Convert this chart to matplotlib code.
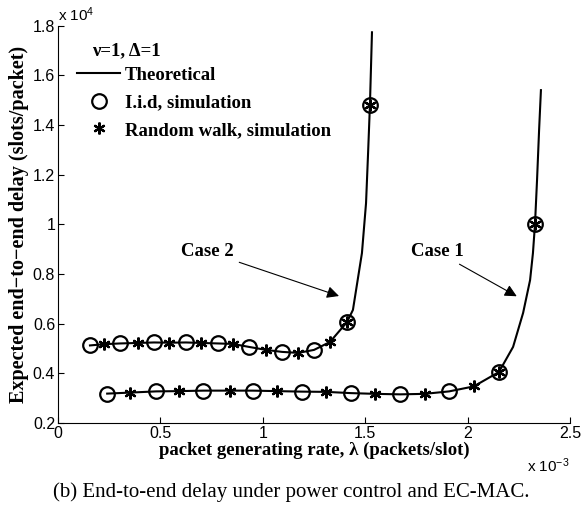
import matplotlib
matplotlib.use("Agg")
import matplotlib.pyplot as plt
from matplotlib.lines import Line2D

# Case 1 (lower curve), lambda in units of 1e-3, delay in units of 1e4
lam1_iid = [0.24, 0.48, 0.71, 0.95, 1.19, 1.43, 1.67, 1.91, 2.153, 2.329]
delay1_iid = [0.318, 0.327, 0.330, 0.330, 0.326, 0.320, 0.315, 0.327, 0.405, 1.0]
lam1_rw = [0.35, 0.59, 0.84, 1.07, 1.31, 1.55, 1.79, 2.03, 2.153, 2.329]
delay1_rw = [0.322, 0.328, 0.330, 0.328, 0.325, 0.317, 0.317, 0.347, 0.405, 1.0]
lam1_th = [0.24, 0.35, 0.48, 0.59, 0.71, 0.84, 0.95, 1.07, 1.19, 1.31, 1.43,
           1.55, 1.67, 1.79, 1.91, 2.03, 2.153, 2.222, 2.271, 2.305, 2.319,
           2.329, 2.339, 2.349, 2.358]
delay1_th = [0.318, 0.322, 0.327, 0.328, 0.330, 0.330, 0.330, 0.328, 0.326,
             0.325, 0.320, 0.317, 0.315, 0.317, 0.327, 0.347, 0.405, 0.506,
             0.643, 0.775, 0.884, 1.0, 1.178, 1.379, 1.54]

# Case 2 (upper curve)
lam2_iid = [0.156, 0.303, 0.469, 0.625, 0.781, 0.933, 1.094, 1.25, 1.411, 1.523]
delay2_iid = [0.512, 0.520, 0.524, 0.524, 0.520, 0.506, 0.486, 0.494, 0.606, 1.48]
lam2_rw = [0.225, 0.39, 0.542, 0.698, 0.854, 1.016, 1.172, 1.328, 1.411, 1.523]
delay2_rw = [0.517, 0.522, 0.523, 0.522, 0.518, 0.494, 0.482, 0.526, 0.606, 1.48]
lam2_th = [0.156, 0.225, 0.303, 0.39, 0.469, 0.542, 0.625, 0.698, 0.781,
           0.854, 0.933, 1.016, 1.094, 1.172, 1.25, 1.328, 1.411, 1.44,
           1.484, 1.504, 1.514, 1.523, 1.533]
delay2_th = [0.512, 0.517, 0.520, 0.522, 0.524, 0.523, 0.524, 0.522, 0.520,
             0.518, 0.506, 0.494, 0.486, 0.482, 0.494, 0.526, 0.606, 0.655,
             0.884, 1.085, 1.287, 1.48, 1.773]

xticks = [0, 0.5, 1, 1.5, 2, 2.5]
xticklabels = ['0', '0.5', '1', '1.5', '2', '2.5']
yticks = [0.2, 0.4, 0.6, 0.8, 1.0, 1.2, 1.4, 1.6, 1.8]
yticklabels = ['0.2', '0.4', '0.6', '0.8', '1', '1.2', '1.4', '1.6', '1.8']

SERIF = 'Liberation Serif'
SANS = 'Liberation Sans'
plt.rcParams['mathtext.fontset'] = 'custom'
plt.rcParams['mathtext.rm'] = SANS
plt.rcParams['mathtext.it'] = SANS

fig = plt.figure(figsize=(5.82, 5.12), dpi=100)
ax = fig.add_axes([0.0997, 0.174, 0.8797, 0.776])

lw = 1.5
star = (6, 2, 0)
circ_kw = dict(marker='o', markersize=10.5, markerfacecolor='none',
               markeredgecolor='k', markeredgewidth=1.6, linestyle='none')
star_kw = dict(marker=star, markersize=8.5, markeredgecolor='k',
               markeredgewidth=1.6, linestyle='none')

for lam, d in [(lam1_th, delay1_th), (lam2_th, delay2_th)]:
    ax.plot(lam, d, color='k', lw=lw)
for lam, d in [(lam1_iid, delay1_iid), (lam2_iid, delay2_iid)]:
    ax.plot(lam, d, **circ_kw)
for lam, d in [(lam1_rw, delay1_rw), (lam2_rw, delay2_rw)]:
    ax.plot(lam, d, **star_kw)

ax.set_xlim(0, 2.5)
ax.set_ylim(0.2, 1.8)
ax.set_xticks(xticks)
ax.set_xticklabels(xticklabels, fontfamily=SANS, fontsize=11.5)
ax.set_yticks(yticks)
ax.set_yticklabels(yticklabels, fontfamily=SANS, fontsize=11.5)
ax.tick_params(direction='in', length=4, width=0.8, pad=2, top=False, right=False)
for s in ['top', 'right']:
    ax.spines[s].set_visible(False)

ax.set_xlabel('packet generating rate, λ (packets/slot)', fontfamily=SERIF,
              fontweight='bold', fontsize=13.5, labelpad=1)
ax.set_ylabel('Expected end\u2212to\u2212end delay (slots/packet)', fontfamily=SERIF,
              fontweight='bold', fontsize=14.5, labelpad=3)

ax.text(0.0, 1.005, r'x 10$^{4}$', transform=ax.transAxes, fontfamily=SANS,
        fontsize=11, ha='left', va='bottom')
ax.text(1.0, -0.085, r'x 10$^{-3}$', transform=ax.transAxes, fontfamily=SANS,
        fontsize=11, ha='right', va='top')

# annotations
ax.annotate('Case 2', xy=(1.372, 0.711), xytext=(0.73, 0.89),
            fontfamily=SERIF, fontweight='bold', fontsize=13.5,
            ha='center', va='center',
            arrowprops=dict(arrowstyle='-|>', color='k', lw=0.8,
                            mutation_scale=18, shrinkA=2, shrinkB=0))
ax.annotate('Case 1', xy=(2.24, 0.71), xytext=(1.85, 0.89),
            fontfamily=SERIF, fontweight='bold', fontsize=13.5,
            ha='center', va='center',
            arrowprops=dict(arrowstyle='-|>', color='k', lw=0.8,
                            mutation_scale=18, shrinkA=2, shrinkB=0))

# legend title drawn as text, indented like the reference
ax.text(0.166, 1.70, 'ν=1, Δ=1', fontfamily=SERIF, fontweight='bold',
        fontsize=13.5, ha='left', va='center')
handles = [Line2D([], [], color='k', lw=lw),
           Line2D([], [], **circ_kw),
           Line2D([], [], **star_kw)]
labels = ['Theoretical', 'I.i.d, simulation', 'Random walk, simulation']
ax.legend(handles, labels, loc='upper left', bbox_to_anchor=(0.0225, 0.915),
          frameon=False, handlelength=2.3, handletextpad=0.25,
          labelspacing=0.55, borderaxespad=0.0,
          prop=dict(family=SERIF, weight='bold', size=13.5))

fig.text(0.5, 0.038, '(b) End-to-end delay under power control and EC-MAC.',
         fontfamily=SERIF, fontsize=15, ha='center', va='center')

fig.savefig('out.png', dpi=100)
